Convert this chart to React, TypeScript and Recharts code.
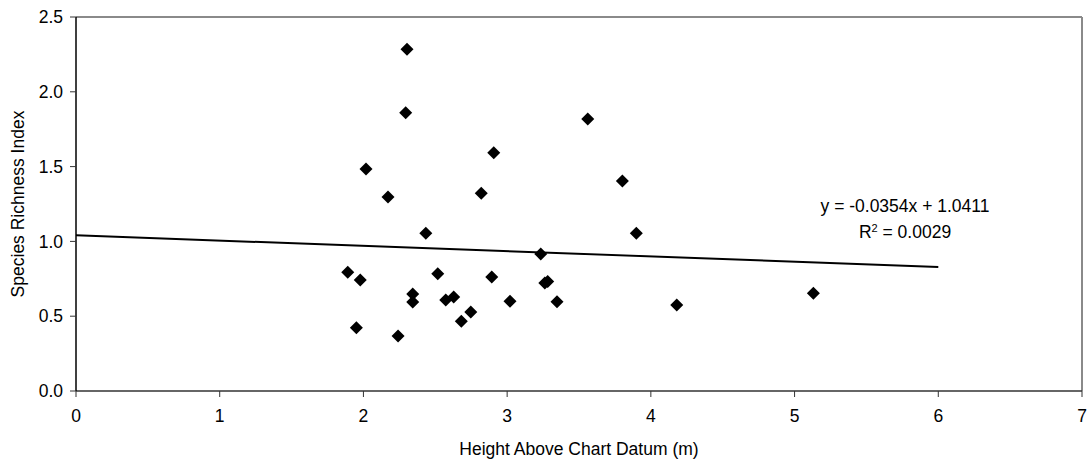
import React from 'react';
import { ScatterChart, Scatter, XAxis, YAxis, ReferenceLine, Label } from 'recharts';

// Height above chart datum (m) vs species richness index
const heights = [
  2.303, 2.294, 2.018, 2.171, 2.434, 1.891, 1.978, 1.951, 2.241, 2.343,
  2.343, 2.517, 2.573, 2.628, 3.561, 2.907, 2.820, 3.802, 3.899, 3.234,
  2.893, 3.262, 3.282, 2.747, 2.681, 3.020, 3.347, 4.180, 5.131,
];
const richness = [
  2.284, 1.860, 1.484, 1.297, 1.054, 0.793, 0.742, 0.423, 0.368, 0.648,
  0.595, 0.784, 0.608, 0.628, 1.818, 1.593, 1.322, 1.404, 1.054, 0.916,
  0.762, 0.722, 0.732, 0.528, 0.466, 0.600, 0.597, 0.575, 0.653,
];

// linear trendline end points (y = -0.0354x + 1.0411)
const trendX = [0, 6];
const trendY = [1.0411, 0.8287];

const xTicks = [0, 1, 2, 3, 4, 5, 6, 7];
const yTicks = [0, 0.5, 1, 1.5, 2, 2.5];

const points = heights.map((h, i) => ({ x: h, y: richness[i] }));
const trend = trendX.map((x, i) => ({ x, y: trendY[i] }));

const FONT = '"Liberation Sans", Arial, sans-serif';
const FS = 17.5;

const Diamond = (props: any) => {
  const { cx, cy } = props;
  const r = 6.5;
  return (
    <polygon
      points={`${cx},${cy - r} ${cx + r},${cy} ${cx},${cy + r} ${cx - r},${cy}`}
      fill="#000"
    />
  );
};

export default function App() {
  return (
    <div style={{ position: 'absolute', left: 0, top: 0, width: 1091, height: 465, fontFamily: FONT, background: '#fff' }}>
      <ScatterChart width={1091} height={465} margin={{ top: 17, right: 9, bottom: 44, left: 0 }}>
        <XAxis
          type="number"
          dataKey="x"
          domain={[0, 7]}
          ticks={xTicks}
          interval={0}
          height={30}
          tick={{ fill: '#000', fontSize: FS, fontFamily: FONT }}
          tickSize={6}
          tickMargin={13}
          axisLine={{ stroke: '#333', strokeWidth: 1.5 }}
          tickLine={{ stroke: '#333' }}
        >
          <Label
            value="Height Above Chart Datum (m)"
            position="bottom"
            offset={22}
            style={{ fill: '#000', fontSize: FS, fontFamily: FONT }}
          />
        </XAxis>
        <YAxis
          type="number"
          dataKey="y"
          domain={[0, 2.5]}
          ticks={yTicks}
          interval={0}
          width={76}
          tickFormatter={(v: number) => v.toFixed(1)}
          tick={{ fill: '#000', fontSize: FS, fontFamily: FONT }}
          tickSize={6}
          tickMargin={7}
          axisLine={{ stroke: '#000', strokeWidth: 1.5 }}
          tickLine={{ stroke: '#333' }}
        >
          <Label
            value="Species Richness Index"
            angle={-90}
            position="insideLeft"
            offset={18}
            style={{ fill: '#000', fontSize: FS, fontFamily: FONT, textAnchor: 'middle' }}
          />
        </YAxis>
        <ReferenceLine y={2.5} stroke="#8a8a8a" strokeWidth={2} />
        <ReferenceLine x={7} stroke="#8a8a8a" strokeWidth={2} />
        <Scatter
          data={trend}
          line={{ stroke: '#000', strokeWidth: 2 }}
          shape={() => null}
          isAnimationActive={false}
        />
        <Scatter data={points} shape={Diamond} isAnimationActive={false} />
      </ScatterChart>
      <div
        style={{
          position: 'absolute',
          left: 805,
          top: 193,
          width: 200,
          textAlign: 'center',
          fontSize: FS,
          lineHeight: '26px',
          color: '#000',
        }}
      >
        <div>y = -0.0354x + 1.0411</div>
        <div>
          R<sup style={{ fontSize: 11, verticalAlign: 'top', lineHeight: '18px' }}>2</sup> = 0.0029
        </div>
      </div>
    </div>
  );
}
